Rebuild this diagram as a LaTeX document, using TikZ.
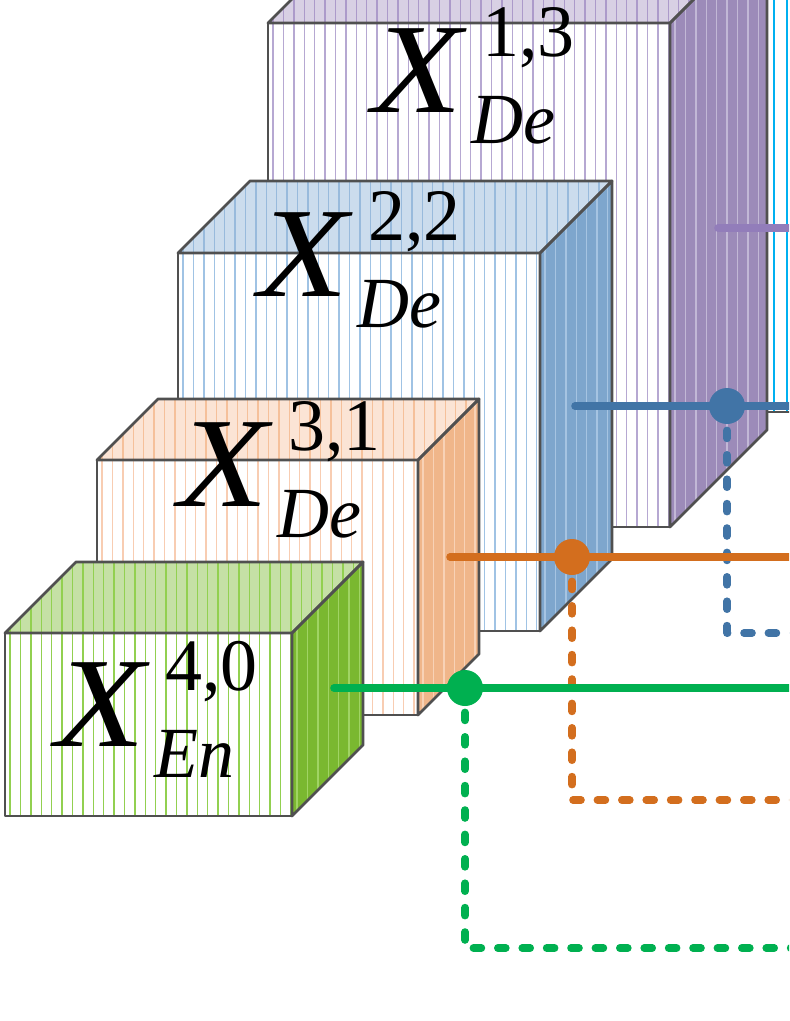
\documentclass[tikz,border=0pt]{standalone}
\usepackage{fontspec}
\setmainfont{Liberation Serif}
\usepackage{tkz-euclide}
\usetikzlibrary{calc}
\definecolor{EdgeClr}{RGB}{80,80,80}
\definecolor{CynFront}{RGB}{0,176,240}
\definecolor{CynTop}{RGB}{200,235,250}
\definecolor{CynTopLn}{RGB}{0,176,240}
\definecolor{CynSide}{RGB}{80,190,235}
\definecolor{CynSideLn}{RGB}{170,225,250}
\definecolor{PurClr}{RGB}{146,125,186}
\definecolor{PurFront}{RGB}{182,168,210}
\definecolor{PurTop}{RGB}{216,208,228}
\definecolor{PurTopLn}{RGB}{172,154,202}
\definecolor{PurSide}{RGB}{156,139,185}
\definecolor{PurSideLn}{RGB}{194,184,214}
\definecolor{BluClr}{RGB}{65,116,166}
\definecolor{BluFront}{RGB}{160,195,228}
\definecolor{BluTop}{RGB}{203,220,237}
\definecolor{BluTopLn}{RGB}{152,186,220}
\definecolor{BluSide}{RGB}{126,166,205}
\definecolor{BluSideLn}{RGB}{166,196,226}
\definecolor{OrgClr}{RGB}{211,110,30}
\definecolor{OrgFront}{RGB}{248,205,178}
\definecolor{OrgTop}{RGB}{251,228,213}
\definecolor{OrgTopLn}{RGB}{245,192,154}
\definecolor{OrgSide}{RGB}{240,182,138}
\definecolor{OrgSideLn}{RGB}{248,210,182}
\definecolor{GrnClr}{RGB}{0,176,80}
\definecolor{GrnFront}{RGB}{146,208,80}
\definecolor{GrnTop}{RGB}{197,224,165}
\definecolor{GrnTopLn}{RGB}{146,208,80}
\definecolor{GrnSide}{RGB}{122,184,48}
\definecolor{GrnSideLn}{RGB}{160,212,100}
\def\SlabStep{10.4}

% #1 prefix, #2 left, #3 top, #4 right, #5 bottom, #6 depth
\newcommand\DrawSlab[6]{%
  \tkzDefPoints{#2/#5/#1a,#4/#5/#1b,#4/#3/#1c,#2/#3/#1d}
  \coordinate (#1e) at ($(#1d)+(#6,-#6)$);
  \coordinate (#1f) at ($(#1c)+(#6,-#6)$);
  \coordinate (#1g) at ($(#1b)+(#6,-#6)$);
  % front face
  \tkzFillPolygon[fill=white](#1a,#1b,#1c,#1d)
  \begin{scope}
    \clip (#1a) -- (#1b) -- (#1c) -- (#1d) -- cycle;
    \foreach \k in {0,...,60}
      \draw[stripe,#1Front] (#2+5+\k*\SlabStep,#3) -- (#2+5+\k*\SlabStep,#5);
  \end{scope}
  % top face
  \tkzFillPolygon[fill=#1Top](#1d,#1c,#1f,#1e)
  \begin{scope}
    \clip (#1d) -- (#1c) -- (#1f) -- (#1e) -- cycle;
    \foreach \k in {0,...,70}
      \draw[stripe,#1TopLn] (#2+5+\k*\SlabStep,#3) -- (#2+5+\k*\SlabStep,#3-#6);
  \end{scope}
  % side face
  \tkzFillPolygon[fill=#1Side](#1c,#1f,#1g,#1b)
  \begin{scope}
    \clip (#1c) -- (#1f) -- (#1g) -- (#1b) -- cycle;
    \foreach \k in {0,...,12}
      \draw[stripe,#1SideLn] (#4+5+\k*\SlabStep,#3-#6) -- (#4+5+\k*\SlabStep,#5);
  \end{scope}
  \tkzDrawPolygon[slabedge](#1a,#1b,#1c,#1d)
  \tkzDrawPolygon[slabedge](#1d,#1c,#1f,#1e)
  \tkzDrawPolygon[slabedge](#1c,#1f,#1g,#1b)
}

% #1 prefix, #2 x, #3 baseline, #4 sup, #5 sub
\newcommand\SlabLabel[5]{%
  \node[bigX] (#1X) at (#2,#3) {\scalebox{1.15}[1]{X}};
  \node[supTxt] (#1Sup) at (#2+110,#3-56) {#4};
  \node[subTxt] (#1Sub) at (#2+99,#3+31) {#5};
}

\begin{document}
\begin{tikzpicture}[x=0.5pt,y=-0.5pt,
  stripe/.style={line width=0.7pt},
  slabedge/.style={color=EdgeClr,line width=1.4pt,line join=round},
  solidln/.style={line width=3.8pt,line cap=round},
  dashln/.style={line width=3.8pt,line cap=round,line join=round,dash pattern=on 4pt off 8.2pt},
  bigX/.style={anchor=base west,inner sep=0pt,font=\fontsize{64}{64}\selectfont\itshape},
  supTxt/.style={anchor=base west,inner sep=0pt,font=\fontsize{37}{37}\selectfont},
  subTxt/.style={anchor=base west,inner sep=0pt,font=\fontsize{36}{36}\selectfont\itshape}]
\useasboundingbox (0,0) rectangle (789,1021);
\clip (0,0) rectangle (789,1021);

\def\SlabStep{13}
\DrawSlab{Cyn}{704}{-100}{900}{412}{60}
\def\SlabStep{10.4}
\DrawSlab{Pur}{268}{23}{670}{527}{97}
\DrawSlab{Blu}{178}{253}{540}{631}{72}
\DrawSlab{Org}{97}{460}{418}{715}{61}
\DrawSlab{Grn}{5}{633}{292}{816}{71}

\SlabLabel{Pur}{372}{113}{1,3}{De}
\SlabLabel{Blu}{258}{297}{2,2}{De}
\SlabLabel{Org}{178}{506}{3,1}{De}
\SlabLabel{Grn}{55}{746}{4,0}{En}

\tkzDefPoints{718/228/P1,800/228/P2,
  575/406/B1,727/406/B2,800/406/B3,727/633/B4,800/633/B5,
  450/557/O1,572/557/O2,800/557/O3,572/800/O4,800/800/O5,
  334/688/G1,465/688/G2,800/688/G3,465/948/G4,800/948/G5}

\draw[solidln,PurClr] (P1) -- (P2);

\draw[dashln,BluClr] (B2) -- (B4) -- (B5);
\draw[solidln,BluClr] (B1) -- (B3);
\fill[BluClr] (B2) circle (9pt);

\draw[dashln,OrgClr] (O2) -- (O4) -- (O5);
\draw[solidln,OrgClr] (O1) -- (O3);
\fill[OrgClr] (O2) circle (9pt);

\draw[dashln,GrnClr] (G2) -- (G4) -- (G5);
\draw[solidln,GrnClr] (G1) -- (G3);
\fill[GrnClr] (G2) circle (9pt);
\end{tikzpicture}
\end{document}
